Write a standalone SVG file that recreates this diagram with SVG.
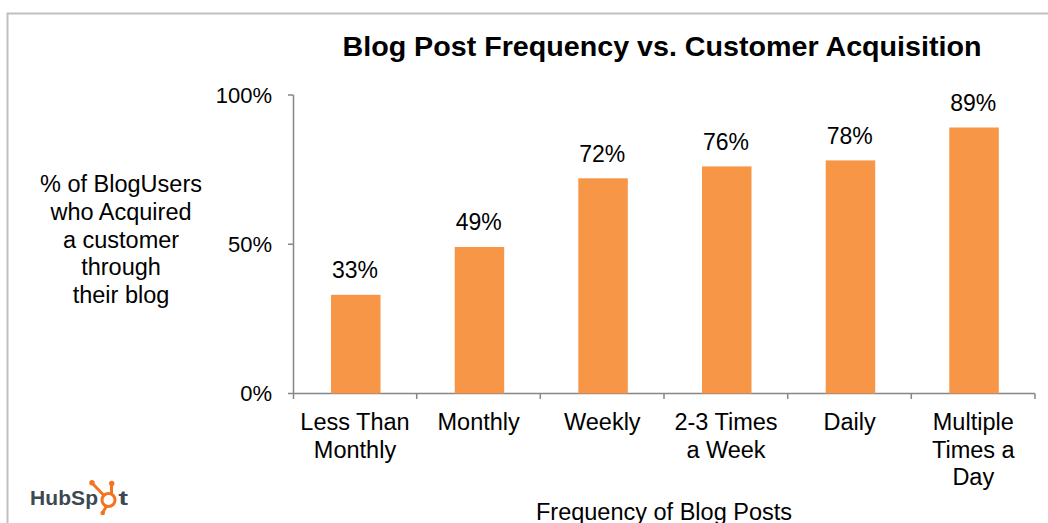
<svg xmlns="http://www.w3.org/2000/svg" width="1048" height="523" viewBox="0 0 1048 523">
<style>
.t{font-family:"Liberation Sans",Arial,sans-serif;fill:#000;}
.lbl{font-size:23.5px;text-anchor:middle;}
.tick{font-size:22px;text-anchor:end;}
.val{font-size:23px;text-anchor:middle;}
.bar{fill:#F79646;}
.ax{stroke:#868686;stroke-width:1.5;fill:none;}
.logo{fill:#3d4850;font-family:"Liberation Sans",Arial,sans-serif;font-weight:bold;}
.spr{stroke:#f47321;stroke-width:3;fill:none;stroke-linecap:round;}
</style>
<rect width="1048" height="523" fill="#fff"/>
<g id="frame">
<path d="M7.5,523 V13.5 H1048" stroke="#c0c0c0" stroke-width="2" fill="none"/>
</g>
<g id="title">
<text class="t" x="662" y="56" font-size="27" font-weight="bold" text-anchor="middle" textLength="639" lengthAdjust="spacingAndGlyphs">Blog Post Frequency vs. Customer Acquisition</text>
</g>
<g id="y-title" class="t lbl">
<text x="121" y="192">% of BlogUsers</text>
<text x="121" y="220">who Acquired</text>
<text x="121" y="247.5">a customer</text>
<text x="121" y="275">through</text>
<text x="121" y="302.5">their blog</text>
</g>
<g id="axes">
<path class="ax" d="M293.5,95 V393.5 M288,95 H293.5 M288,244.3 H293.5 M288,393.5 H1035"/>
<path class="ax" d="M293.5,393.5 V399 M416.7,393.5 V399 M540.3,393.5 V399 M664,393.5 V399 M787.7,393.5 V399 M911.3,393.5 V399 M1035,393.5 V399"/>
</g>
<g id="y-ticks" class="t tick">
<text x="272" y="103">100%</text>
<text x="272" y="252">50%</text>
<text x="272" y="401">0%</text>
</g>
<g id="bar-less-than-monthly">
<rect class="bar" x="331" y="294.8" width="49.5" height="98.7"/>
<text class="t val" x="355" y="277.5">33%</text>
<text class="t lbl" x="355" y="430">Less Than</text>
<text class="t lbl" x="355" y="457.5">Monthly</text>
</g>
<g id="bar-monthly">
<rect class="bar" x="454.7" y="247" width="49.5" height="146.5"/>
<text class="t val" x="478.7" y="230">49%</text>
<text class="t lbl" x="478.7" y="430">Monthly</text>
</g>
<g id="bar-weekly">
<rect class="bar" x="578.3" y="178.3" width="49.5" height="215.2"/>
<text class="t val" x="602.3" y="162">72%</text>
<text class="t lbl" x="602.3" y="430">Weekly</text>
</g>
<g id="bar-2-3-times">
<rect class="bar" x="702" y="166.4" width="49.5" height="227.1"/>
<text class="t val" x="726" y="150">76%</text>
<text class="t lbl" x="726" y="430">2-3 Times</text>
<text class="t lbl" x="726" y="457.5">a Week</text>
</g>
<g id="bar-daily">
<rect class="bar" x="825.7" y="160.4" width="49.5" height="233.1"/>
<text class="t val" x="849.7" y="144">78%</text>
<text class="t lbl" x="849.7" y="430">Daily</text>
</g>
<g id="bar-multiple">
<rect class="bar" x="949.3" y="127.5" width="49.5" height="266"/>
<text class="t val" x="973.3" y="111">89%</text>
<text class="t lbl" x="973.3" y="430">Multiple</text>
<text class="t lbl" x="973.3" y="457.5">Times a</text>
<text class="t lbl" x="973.3" y="485">Day</text>
</g>
<g id="x-title">
<text class="t lbl" x="664" y="520">Frequency of Blog Posts</text>
</g>
<g id="logo">
<text class="logo" x="30" y="505" font-size="21" textLength="68" lengthAdjust="spacing">HubSp</text>
<circle class="spr" cx="108.5" cy="500" r="6.5"/>
<path class="spr" d="M111.5,493.5 V485.5 M103.5,495 L93.5,484.5 M106,507 L103,512"/>
<circle cx="111.7" cy="483.5" r="2.7" fill="#f47321"/>
<circle cx="92" cy="482.8" r="2.7" fill="#f47321"/>
<circle cx="102.7" cy="513" r="2.3" fill="#f47321"/>
<text class="logo" x="118.5" y="505" font-size="21" textLength="9.5" lengthAdjust="spacingAndGlyphs">t</text>
</g>
</svg>
